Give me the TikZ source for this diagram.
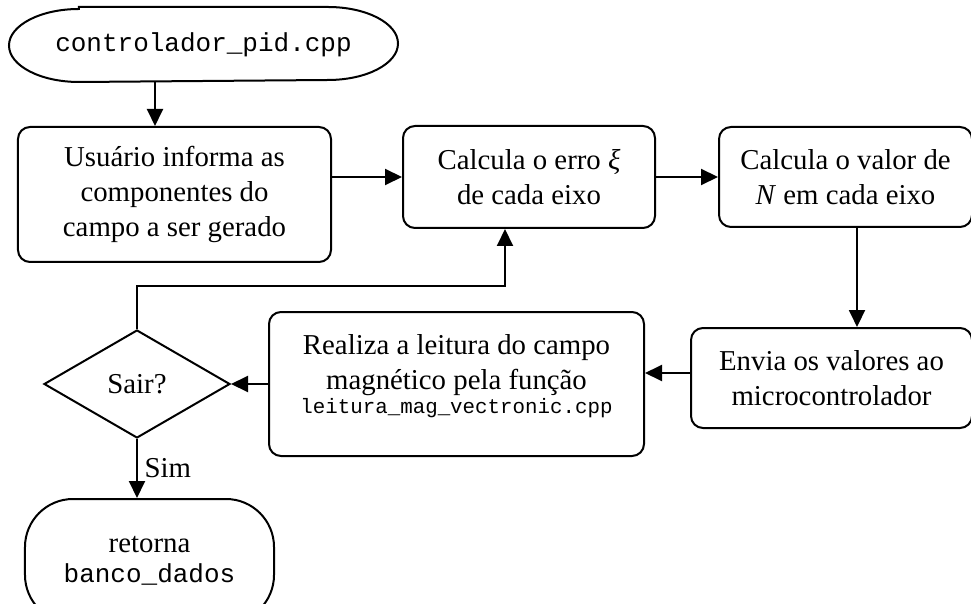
\documentclass[tikz,border=0pt]{standalone}
\usepackage{fontspec}
\setmainfont{Liberation Serif}
\setmonofont{Liberation Mono}
\usetikzlibrary{shapes.geometric, arrows.meta, positioning}

\begin{document}
\begin{tikzpicture}[
    x=0.5bp, y=-0.5bp,
    >={Triangle[length=8.5bp, width=8bp]},
    line width=1bp,
    font=\fontsize{14.4bp}{17.5bp}\selectfont,
    % Process Block Style
    block/.style={draw, rectangle, rounded corners=6bp, align=center, inner sep=2bp},
    % Start / End Style
    term/.style={rectangle, align=center, inner sep=2bp},
    % Decision Style
    decision/.style={draw, diamond, aspect=1.72, inner sep=0pt, minimum width=93bp, minimum height=54bp},
    % Code Text Style
    code/.style={font=\fontsize{13bp}{15bp}\selectfont\ttfamily}
]
\clip (0,0) rectangle (971,604);
\useasboundingbox (0,0) rectangle (971,604);

% ================= Nodes =================

% 1. Top row
\node[block, minimum width=156.5bp, minimum height=67.5bp] (usuario) at (174.5,194.5) {Usuário informa as\\componentes do\\campo a ser gerado};
\node[term, code, minimum width=193.5bp, minimum height=36.5bp, above=22bp of usuario, xshift=14.5bp] (inicio) {controlador\_pid.cpp};
\node[block, minimum width=126bp, minimum height=51bp, right=35bp of usuario, yshift=8.75bp] (erro) {Calcula o erro \textit{ξ}\\de cada eixo};
\node[block, minimum width=126.5bp, minimum height=50bp, right=31bp of erro] (valorN) {Calcula o valor de\\\textit{N} em cada eixo};

% 2. Middle row
\node[block, minimum width=140.5bp, minimum height=50bp, below=49.5bp of valorN, xshift=-7bp] (envia) {Envia os valores ao\\microcontrolador};
\node[block, minimum width=187.5bp, minimum height=72bp, left=22.5bp of envia, yshift=-3bp] (leitura) {Realiza a leitura do campo\\magnético pela função\\[-5.5bp]{\fontsize{10.4bp}{12bp}\selectfont\ttfamily leitura\_mag\_vectronic.cpp}\\[-8bp]\mbox{}};
\node[decision, left=18.5bp of leitura] (sair) {Sair?};

% 3. End
\node[term, draw, rounded corners=24bp, minimum width=124.5bp, minimum height=62bp, below=29.5bp of sair, xshift=6.25bp] (fim) {retorna\\[-2.5bp]{\fontsize{13bp}{15bp}\selectfont\ttfamily banco\_dados}};

% outline of the start terminal (elliptic ends)
\draw ([xshift=35bp]inicio.north west) -- ([xshift=-35bp]inicio.north east)
  arc[start angle=90, end angle=-90, x radius=35bp, y radius=18.25bp]
  -- ([xshift=35bp]inicio.south west)
  arc[start angle=270, end angle=90, x radius=35bp, y radius=18.25bp] -- cycle;

\coordinate (volta) at (505,286);

% ================= Connections =================

\draw[->] ([xshift=-9.75bp]usuario.north |- inicio.south) -- ([xshift=-9.75bp]usuario.north);
\draw[->] (usuario.east |- erro.west) -- (erro.west);
\draw[->] (erro.east) -- (erro.east -| valorN.west);
\draw[->] ([xshift=5.75bp]valorN.south) -- ([xshift=5.75bp]valorN.south |- envia.north);
\draw[->] ([yshift=2.5bp]envia.west) -- ([yshift=2.5bp]envia.west -| leitura.east);
\draw[->] (leitura.west |- sair.east) -- (sair.east);

% Loop back
\draw[->] (sair.north) |- (volta) -- (volta |- erro.south);
\draw[->] (sair.south) -- node[right] {Sim} (sair.south |- fim.north);

\end{tikzpicture}
\end{document}
